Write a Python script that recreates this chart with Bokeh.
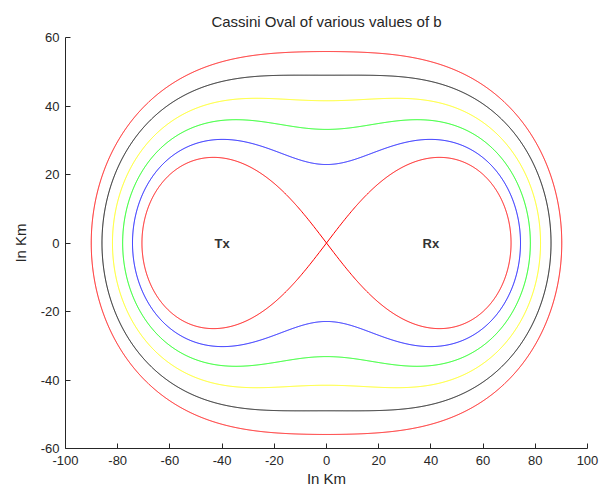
import numpy as np
from bokeh.plotting import figure
from bokeh.models import Range1d, FixedTicker, ColumnDataSource, CustomJSTickFormatter
from bokeh.core.properties import value
from bokeh.embed import file_html
from bokeh.resources import INLINE

# Half the distance between the two foci (Tx and Rx), in km
a_km = 50.0
# Product-of-distances parameter b for each oval, with its line colour
b_values = [50, 55, 60, 65, 70, 75]
colors = ["#FF0000", "#0000FF", "#00FF00", "#FFFF00", "#000000", "#FF0000"]

# Transmitter / receiver markers
site_names = ["Tx", "Rx"]
site_x = [-40, 40]
site_y = [0, 0]

x_ticks = [-100, -80, -60, -40, -20, 0, 20, 40, 60, 80, 100]
y_ticks = [-60, -40, -20, 0, 20, 40, 60]

FONT = "Liberation Sans"
INK = "#262626"

p = figure(width=600, height=490, output_backend="svg", toolbar_location=None,
           x_range=Range1d(-100, 100), y_range=Range1d(-60, 60),
           title="Cassini Oval of various values of b",
           min_border_left=65, min_border_right=13,
           min_border_top=37, min_border_bottom=42)

p.title.align = "center"
p.title.text_font = FONT
p.title.text_font_size = "15px"
p.title.text_font_style = "normal"
p.title.text_color = INK
p.title.offset = 0
p.title.standoff = 16

p.outline_line_color = None
p.background_fill_color = "white"
p.border_fill_color = "white"
p.xgrid.visible = False
p.ygrid.visible = False

# Polar form of the Cassini oval: r^2 = a^2 cos2t + sqrt(b^4 - a^4 sin^2 2t)
theta = np.linspace(0, 2 * np.pi, 4001)
for b, c in zip(b_values, colors):
    inner = np.clip(b ** 4 - a_km ** 4 * np.sin(2 * theta) ** 2, 0, None)
    r2 = np.clip(a_km ** 2 * np.cos(2 * theta) + np.sqrt(inner), 0, None)
    r = np.sqrt(r2)
    p.line(r * np.cos(theta), r * np.sin(theta), line_color=c, line_width=1)

src = ColumnDataSource(dict(x=site_x, y=site_y, t=site_names))
p.text("x", "y", text="t", source=src, text_align="center",
       text_baseline="middle", text_font=value(FONT),
       text_font_size="13px", text_font_style="bold", text_color="#333333")

plain_minus = CustomJSTickFormatter(code="return String(tick);")
for ax in (p.xaxis, p.yaxis):
    ax.axis_line_color = INK
    ax.major_tick_line_color = INK
    ax.major_tick_in = 5
    ax.major_tick_out = 0
    ax.minor_tick_line_color = None
    ax.major_label_text_font = FONT
    ax.major_label_text_font_size = "13px"
    ax.major_label_text_color = INK
    ax.axis_label = "In Km"
    ax.axis_label_text_font = FONT
    ax.axis_label_text_font_size = "15px"
    ax.axis_label_text_font_style = "normal"
    ax.axis_label_text_color = INK
    ax.formatter = plain_minus

p.xaxis.major_label_standoff = 7
p.xaxis.axis_label_standoff = 2
p.yaxis.major_label_standoff = 6
p.yaxis.axis_label_standoff = 9
p.xaxis.ticker = FixedTicker(ticks=x_ticks)
p.yaxis.ticker = FixedTicker(ticks=y_ticks)

open("out.html", "w").write(file_html(p, INLINE))
